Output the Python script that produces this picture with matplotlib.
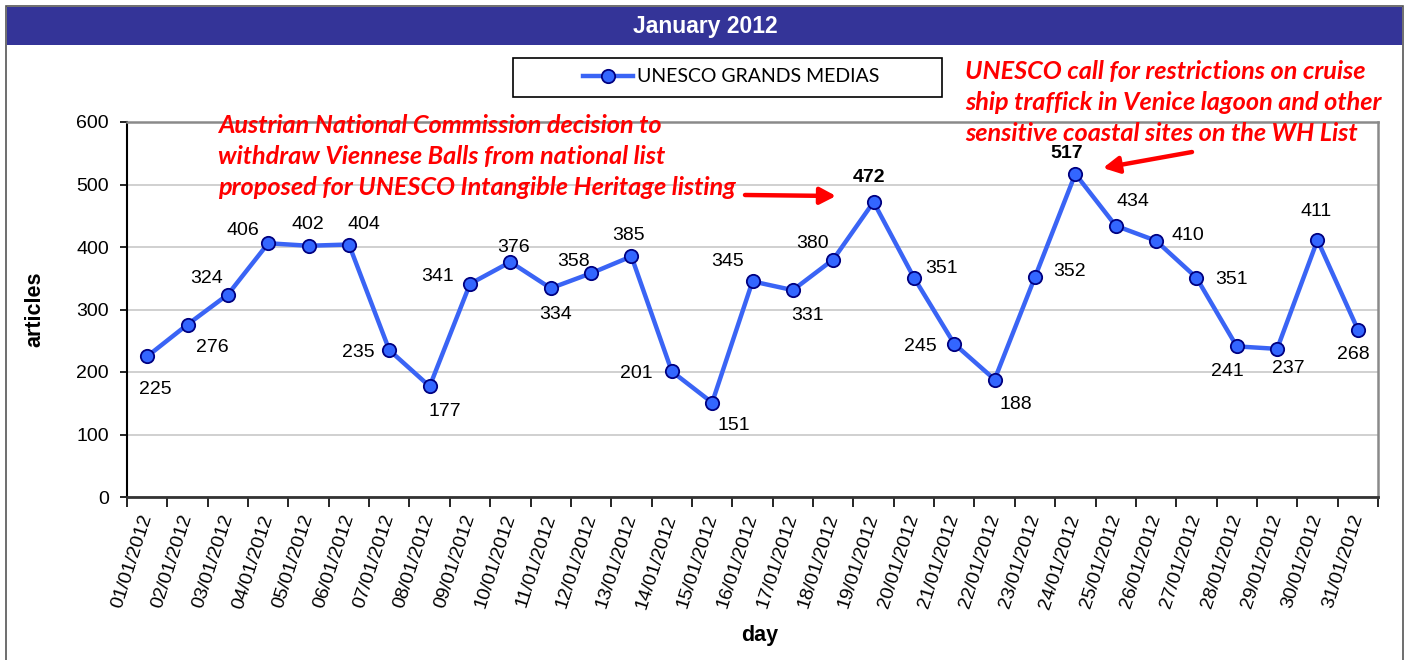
import matplotlib
matplotlib.use("Agg")
import matplotlib.pyplot as plt
from matplotlib.patches import Rectangle
from matplotlib.lines import Line2D
from matplotlib.ticker import FixedLocator, MultipleLocator

# ---------------- data ----------------
days = ["01/01/2012", "02/01/2012", "03/01/2012", "04/01/2012", "05/01/2012",
        "06/01/2012", "07/01/2012", "08/01/2012", "09/01/2012", "10/01/2012",
        "11/01/2012", "12/01/2012", "13/01/2012", "14/01/2012", "15/01/2012",
        "16/01/2012", "17/01/2012", "18/01/2012", "19/01/2012", "20/01/2012",
        "21/01/2012", "22/01/2012", "23/01/2012", "24/01/2012", "25/01/2012",
        "26/01/2012", "27/01/2012", "28/01/2012", "29/01/2012", "30/01/2012",
        "31/01/2012"]
articles = [225, 276, 324, 406, 402, 404, 235, 177, 341, 376,
            334, 358, 385, 201, 151, 345, 331, 380, 472, 351,
            245, 188, 352, 517, 434, 410, 351, 241, 237, 411,
            268]
bold_labels = [472, 517]
series_name = "UNESCO GRANDS MEDIAS"
title = "January 2012"
note_left = ["Austrian National Commission decision to",
             "withdraw Viennese Balls from national list",
             "proposed for UNESCO Intangible Heritage listing"]
note_right = ["UNESCO call for restrictions on cruise",
              "ship traffick in Venice lagoon and other",
              "sensitive coastal sites on the WH List"]

# label offsets in pixels (dx right, dy down) -- styling only
label_offsets = [(8, 33), (25, 23), (-21, -16), (-25, -13), (-1, -21), (15, -20),
                 (-31, 2), (15, 25), (-32, -7), (3, -15), (5, 26), (-18, -12),
                 (-3, -21), (-35, 2), (22, 23), (-25, -20), (15, 25), (-21, -16),
                 (-5, -24), (28, -9), (-34, 3), (21, 25), (35, -6), (-9, -20),
                 (17, -24), (32, -5), (35, 2), (-9, 25), (11, 20), (-1, -29),
                 (-5, 25)]

W, H = 1408, 660
plt.rcParams['font.family'] = ['Liberation Sans', 'DejaVu Sans']
fig = plt.figure(figsize=(W / 100, H / 100), dpi=100)
fig.patch.set_facecolor("white")

def fx(px):
    return px / W

def fy(py):
    return 1 - py / H

# outer border (bottom edge cut off) and title bar
fig.patches.append(Rectangle((fx(6), fy(670)), fx(1403) - fx(6), fy(6) - fy(670),
                             transform=fig.transFigure, fill=False,
                             edgecolor="#555555", linewidth=1.2))
fig.patches.append(Rectangle((fx(7), fy(45)), fx(1402) - fx(7), fy(7) - fy(45),
                             transform=fig.transFigure, facecolor="#343498",
                             edgecolor="none"))
fig.text(fx(705), fy(27), title, color="white", fontsize=16.5, fontweight="bold",
         ha="center", va="center")

# axes
ax = fig.add_axes([fx(127), fy(497), fx(1378) - fx(127), fy(122) - fy(497)])
x = list(range(len(days)))
line, = ax.plot(x, articles, color="#3A64F5", linewidth=3.2, marker="o",
                markersize=9.6, markerfacecolor="#3366FF",
                markeredgecolor="#000080", markeredgewidth=1.3,
                solid_joinstyle="miter", zorder=3)

ax.set_xlim(-0.5, len(days) - 0.5)
ax.set_ylim(0, 600)
ax.yaxis.set_major_locator(MultipleLocator(100))
ax.grid(axis="y", color="#C8C8C8", linewidth=1.2)
ax.set_axisbelow(True)

for side in ("top", "right"):
    ax.spines[side].set_color("#8A8A8A")
    ax.spines[side].set_linewidth(1.8)
ax.spines["left"].set_color("black")
ax.spines["left"].set_linewidth(1.5)
ax.spines["bottom"].set_color("#333333")
ax.spines["bottom"].set_linewidth(2.0)

ax.tick_params(axis="y", labelsize=14, length=5, width=1.2, pad=8)
ax.set_xticks(x)
ax.set_xticklabels(days, rotation=72, ha="right", va="center",
                   rotation_mode="anchor", fontsize=14)
ax.tick_params(axis="x", which="major", length=0, pad=13)
ax.xaxis.set_minor_locator(FixedLocator([i - 0.5 for i in range(len(days) + 1)]))
ax.tick_params(axis="x", which="minor", length=7, width=1.2)

ax.set_ylabel("articles", fontsize=15.5, fontweight="bold")
ax.yaxis.set_label_coords(-(127 - 35) / 1251, 0.5)
ax.set_xlabel("day", fontsize=15.5, fontweight="bold")
ax.xaxis.set_label_coords((760 - 127) / 1251, -(635 - 497) / 375)
ax.xaxis.label.set_va("center")
ax.yaxis.label.set_va("center")

# data labels
for xi, v, (dx, dy) in zip(x, articles, label_offsets):
    ax.annotate(str(v), (xi, v), xytext=(dx, -dy), textcoords="offset pixels",
                ha="center", va="center", fontsize=14,
                fontweight="bold" if v in bold_labels else "normal",
                color="black", zorder=4)

# annotations text
ann_font = dict(family=["Lato", "DejaVu Sans"], fontsize=18.2, fontweight="bold",
                fontstyle="italic", color="#FF0000")
for k, s in enumerate(note_left):
    fig.text(fx(218), fy(133 + 31 * k), s, ha="left", va="baseline", **ann_font)
for k, s in enumerate(note_right):
    fig.text(fx(965), fy(79 + 31 * k), s, ha="left", va="baseline", **ann_font)

# arrows (figure pixel coords)
arrow_style = dict(arrowstyle="-|>,head_length=0.95,head_width=0.5",
                   color="#FF0000", linewidth=3.2, shrinkA=0, shrinkB=0)
ax.annotate("", xy=(fx(836), fy(196)), xytext=(fx(745), fy(195)),
            xycoords="figure fraction", textcoords="figure fraction",
            arrowprops=arrow_style, annotation_clip=False)
ax.annotate("", xy=(fx(1103), fy(168)), xytext=(fx(1192), fy(152)),
            xycoords="figure fraction", textcoords="figure fraction",
            arrowprops=arrow_style, annotation_clip=False)

# legend with separate frame
fig.patches.append(Rectangle((fx(513), fy(97)), fx(942) - fx(513), fy(58) - fy(97),
                             transform=fig.transFigure, fill=False,
                             edgecolor="black", linewidth=1.2))
handle = Line2D([], [], color="#3A64F5", linewidth=3.2, marker="o", markersize=9.6,
                markerfacecolor="#3366FF", markeredgecolor="#000080",
                markeredgewidth=1.3)
fig.legend([handle], [series_name], loc="center",
           bbox_to_anchor=(fx(731), fy(77)), frameon=False,
           prop={"family": ["Lato", "DejaVu Sans"], "size": 14},
           handlelength=2.6, handletextpad=0.2, borderpad=0)

fig.savefig("out.png", dpi=100, facecolor="white")
